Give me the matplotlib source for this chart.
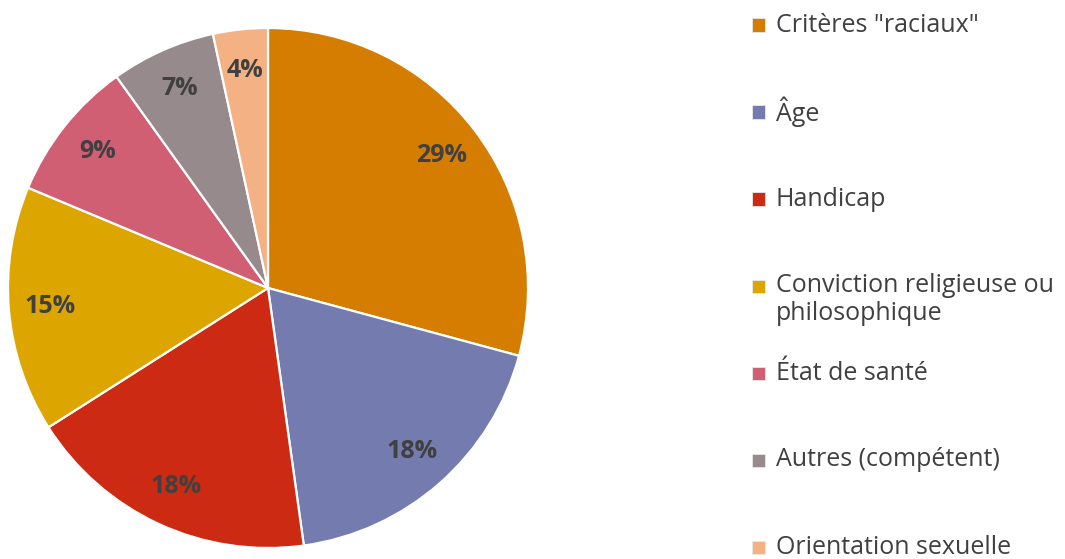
import matplotlib.pyplot as plt
from matplotlib.patches import Rectangle

labels = ['Critères "raciaux"', 'Âge', 'Handicap', 'Conviction religieuse ou\nphilosophique',
          'État de santé', 'Autres (compétent)', 'Orientation sexuelle']
values = [29.2, 18.6, 18.2, 15.3, 8.8, 6.5, 3.4]
pct_labels = ['29%', '18%', '18%', '15%', '9%', '7%', '4%']
colors = ['#D57D00', '#737BAF', '#CC2A12', '#DDA500', '#D05F73', '#978A8D', '#F4B183']

W, H = 1065, 559
fig = plt.figure(figsize=(W / 100, H / 100), dpi=100)
plt.rcParams['font.family'] = ['Open Sans', 'DejaVu Sans']

# pie centre (268, 288) px from top, radius 260
cx, cy, r = 268, 288, 260
ax = fig.add_axes([(cx - r) / W, (H - cy - r) / H, 2 * r / W, 2 * r / H])
wedges, texts = ax.pie(values, colors=colors, startangle=90, counterclock=False,
                       wedgeprops=dict(edgecolor='white', linewidth=1.6))
ax.set_xlim(-1, 1)
ax.set_ylim(-1, 1)
ax.set_aspect('equal')

# percentage labels placed along each wedge's mid-angle
import numpy as np
for w, txt in zip(wedges, pct_labels):
    ang = np.deg2rad((w.theta1 + w.theta2) / 2)
    ax.text(0.84 * np.cos(ang), 0.84 * np.sin(ang), txt, ha='center', va='center',
            fontsize=18, fontweight='bold', color='#404040')

# legend
y0, step, lh = 25, 87, 27
for i, (lab, col) in enumerate(zip(labels, colors)):
    y = y0 + i * step
    fig.patches.append(Rectangle((752 / W, 1 - (y + 6.5) / H), 13 / W, 13 / H,
                                 transform=fig.transFigure, facecolor=col, edgecolor='#e8e8e8',
                                 linewidth=0.6))
    for j, line in enumerate(lab.split('\n')):
        fig.text(776 / W, 1 - (y + j * lh) / H, line, fontsize=18, color='#404040',
                 va='center', ha='left')

fig.savefig('out.png', dpi=100)
